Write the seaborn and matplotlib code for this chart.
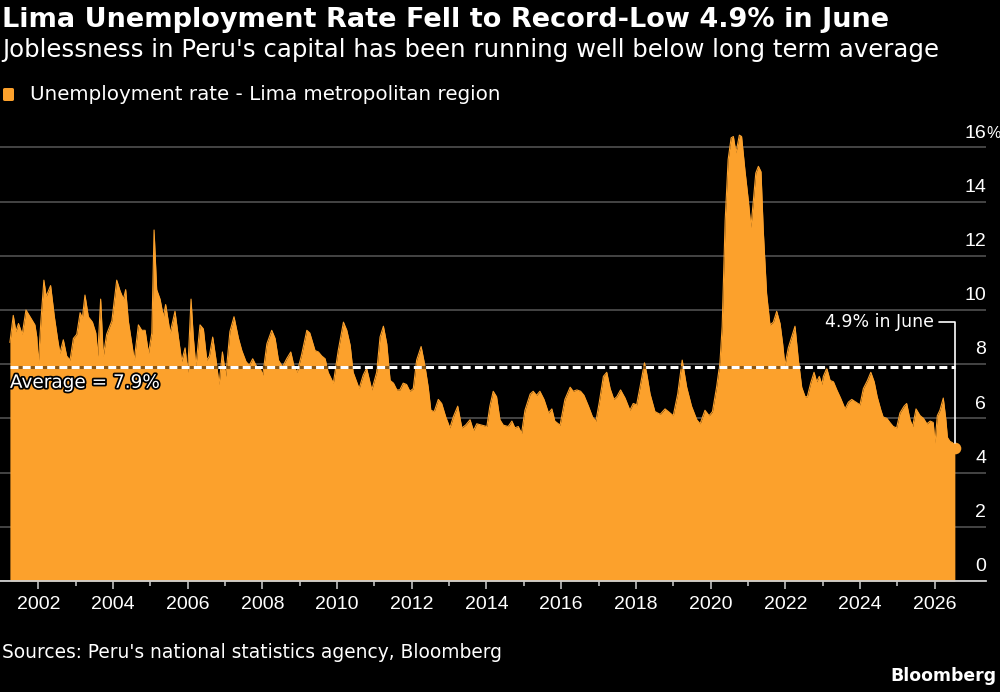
import matplotlib
matplotlib.use("Agg")
import matplotlib.pyplot as plt
import matplotlib.patheffects as pe
from matplotlib.patches import FancyBboxPatch
import pandas as pd
import seaborn as sns

ORANGE = "#FCA12C"
GRID = "#4a4a4a"
AXIS = "#d0d0d0"

# decimal year of each reading
YEARS = [
    2001.24, 2001.33, 2001.40, 2001.47, 2001.52, 2001.57, 2001.67, 2001.78, 2001.91, 2001.96,
    2002.00, 2002.07, 2002.15, 2002.21, 2002.33, 2002.43, 2002.52, 2002.58, 2002.67, 2002.76,
    2002.85, 2002.94, 2003.03, 2003.12, 2003.18, 2003.25, 2003.34, 2003.45, 2003.54, 2003.59,
    2003.67, 2003.74, 2003.83, 2003.97, 2004.10, 2004.19, 2004.28, 2004.34, 2004.41, 2004.57,
    2004.68, 2004.77, 2004.86, 2004.95, 2005.04, 2005.10, 2005.17, 2005.26, 2005.35, 2005.41,
    2005.53, 2005.66, 2005.75, 2005.84, 2005.93, 2006.00, 2006.09, 2006.15, 2006.22, 2006.33,
    2006.42, 2006.51, 2006.58, 2006.67, 2006.76, 2006.84, 2006.93, 2007.02, 2007.13, 2007.24,
    2007.36, 2007.45, 2007.56, 2007.65, 2007.74, 2007.85, 2007.94, 2008.01, 2008.12, 2008.25,
    2008.34, 2008.43, 2008.54, 2008.65, 2008.76, 2008.85, 2008.93, 2009.05, 2009.19, 2009.27,
    2009.41, 2009.50, 2009.59, 2009.68, 2009.76, 2009.90, 2010.03, 2010.17, 2010.26, 2010.35,
    2010.43, 2010.59, 2010.70, 2010.79, 2010.93, 2011.06, 2011.15, 2011.24, 2011.33, 2011.42,
    2011.51, 2011.60, 2011.68, 2011.77, 2011.86, 2011.95, 2012.04, 2012.13, 2012.25, 2012.35,
    2012.44, 2012.51, 2012.60, 2012.71, 2012.80, 2012.91, 2013.02, 2013.11, 2013.23, 2013.34,
    2013.44, 2013.56, 2013.65, 2013.74, 2013.87, 2014.01, 2014.09, 2014.18, 2014.27, 2014.36,
    2014.45, 2014.58, 2014.68, 2014.76, 2014.85, 2014.94, 2015.03, 2015.17, 2015.25, 2015.34,
    2015.43, 2015.54, 2015.66, 2015.75, 2015.83, 2015.97, 2016.10, 2016.24, 2016.32, 2016.42,
    2016.52, 2016.61, 2016.73, 2016.84, 2016.93, 2017.02, 2017.13, 2017.22, 2017.31, 2017.41,
    2017.49, 2017.59, 2017.71, 2017.84, 2017.93, 2018.02, 2018.11, 2018.23, 2018.29, 2018.38,
    2018.51, 2018.65, 2018.78, 2018.87, 2019.00, 2019.12, 2019.24, 2019.36, 2019.49, 2019.63,
    2019.72, 2019.85, 2019.96, 2020.05, 2020.16, 2020.25, 2020.31, 2020.39, 2020.47, 2020.55,
    2020.61, 2020.68, 2020.77, 2020.83, 2020.92, 2021.01, 2021.08, 2021.14, 2021.21, 2021.28,
    2021.35, 2021.41, 2021.50, 2021.59, 2021.68, 2021.77, 2021.86, 2021.93, 2021.99, 2022.08,
    2022.17, 2022.26, 2022.35, 2022.44, 2022.53, 2022.59, 2022.68, 2022.77, 2022.84, 2022.91,
    2022.98, 2023.02, 2023.11, 2023.20, 2023.29, 2023.38, 2023.48, 2023.60, 2023.69, 2023.78,
    2023.89, 2024.00, 2024.09, 2024.20, 2024.29, 2024.38, 2024.46, 2024.56, 2024.62, 2024.72,
    2024.80, 2024.89, 2024.98, 2025.07, 2025.18, 2025.25, 2025.34, 2025.41, 2025.50, 2025.61,
    2025.70, 2025.79, 2025.88, 2025.96, 2026.01, 2026.07, 2026.14, 2026.23, 2026.30, 2026.34,
    2026.41, 2026.48, 2026.54,
]

# unemployment rate, Lima metropolitan region (%)
RATES = [
    8.8, 9.8, 9.2, 9.5, 9.3, 9.1, 10.0, 9.75, 9.45, 9.0,
    8.0, 9.6, 11.1, 10.5, 10.9, 9.75, 8.9, 8.4, 8.9, 8.3,
    8.15, 8.95, 9.1, 9.9, 9.7, 10.55, 9.75, 9.55, 9.15, 8.3,
    10.4, 8.3, 9.1, 9.6, 11.1, 10.7, 10.4, 10.75, 9.6, 8.15,
    9.45, 9.25, 9.25, 8.4, 9.15, 12.95, 10.75, 10.4, 9.75, 10.2,
    9.15, 9.95, 9.0, 8.1, 8.6, 7.7, 10.4, 9.0, 7.9, 9.45,
    9.3, 8.15, 8.3, 9.0, 8.15, 7.25, 8.45, 7.55, 9.2, 9.75,
    8.95, 8.5, 8.1, 7.95, 8.2, 7.9, 7.85, 7.6, 8.75, 9.25,
    8.95, 8.15, 7.9, 8.2, 8.45, 7.9, 7.7, 8.35, 9.25, 9.15,
    8.5, 8.45, 8.3, 8.2, 7.7, 7.3, 8.5, 9.55, 9.25, 8.7,
    7.7, 7.1, 7.6, 7.85, 7.05, 7.7, 9.0, 9.4, 8.75, 7.4,
    7.3, 7.05, 7.05, 7.3, 7.25, 7.0, 7.1, 8.15, 8.65, 7.95,
    7.15, 6.3, 6.25, 6.7, 6.55, 6.05, 5.65, 6.05, 6.45, 5.65,
    5.75, 5.95, 5.55, 5.8, 5.75, 5.7, 6.45, 7.0, 6.8, 5.95,
    5.75, 5.7, 5.9, 5.65, 5.7, 5.45, 6.3, 6.9, 7.0, 6.85,
    7.0, 6.7, 6.2, 6.35, 5.9, 5.75, 6.7, 7.15, 7.0, 7.05,
    7.0, 6.85, 6.45, 6.05, 5.9, 6.6, 7.55, 7.7, 7.1, 6.7,
    6.8, 7.05, 6.75, 6.3, 6.55, 6.5, 7.15, 8.05, 7.65, 6.9,
    6.25, 6.15, 6.35, 6.25, 6.1, 6.9, 8.15, 7.15, 6.45, 5.95,
    5.8, 6.3, 6.1, 6.25, 7.15, 8.05, 9.4, 13.3, 15.55, 16.35,
    16.4, 15.8, 16.45, 16.4, 15.15, 14.05, 13.05, 13.95, 15.05, 15.3,
    15.1, 12.95, 10.6, 9.45, 9.55, 9.95, 9.5, 8.75, 7.95, 8.6,
    9.0, 9.4, 8.15, 7.15, 6.8, 6.8, 7.3, 7.7, 7.35, 7.55,
    7.25, 7.55, 7.85, 7.4, 7.35, 7.05, 6.75, 6.35, 6.6, 6.7,
    6.6, 6.5, 7.1, 7.4, 7.7, 7.35, 6.8, 6.3, 6.05, 6.0,
    5.85, 5.7, 5.65, 6.2, 6.45, 6.55, 5.95, 5.7, 6.35, 6.1,
    6.0, 5.8, 5.9, 5.85, 5.1, 6.1, 6.3, 6.75, 5.95, 5.3,
    5.15, 5.1, 4.9,
]

AVERAGE = 7.9
Y_TICKS = [0, 2, 4, 6, 8, 10, 12, 14, 16]
X_MAJOR = list(range(2002, 2027, 2))
X_MINOR = list(range(2003, 2027, 2))

TITLE = "Lima Unemployment Rate Fell to Record-Low 4.9% in June"
SUBTITLE = "Joblessness in Peru's capital has been running well below long term average"
LEGEND = "Unemployment rate - Lima metropolitan region"
SOURCE = "Sources: Peru's national statistics agency, Bloomberg"

sns.set_theme(style="dark")
plt.rcParams["font.family"] = ["DejaVu Sans"]
plt.rcParams["text.color"] = "white"
TICK_FONT = ["Liberation Sans", "DejaVu Sans"]

df = pd.DataFrame({"year": YEARS, "rate": RATES})

fig = plt.figure(figsize=(10, 6.92), dpi=100, facecolor="black")
ax = fig.add_axes([0.0, 1 - 581 / 692, 0.986, (581 - 130) / 692])
ax.set_facecolor("black")

ax.fill_between(df["year"], 0, df["rate"], color=ORANGE, lw=0, zorder=2)
sns.lineplot(data=df, x="year", y="rate", color=ORANGE, lw=0.8, ax=ax, zorder=3)

ax.set_xlim(2000.975, 2027.374)
ax.set_ylim(0, 16.64)
ax.set_xlabel("")
ax.set_ylabel("")

# grid + axis
ax.set_yticks(Y_TICKS)
ax.yaxis.grid(True, color=GRID, lw=1.3, zorder=0)
ax.xaxis.grid(False)
ax.set_axisbelow(True)
ax.tick_params(axis="y", length=0, labelleft=False, labelright=False)
for side in ["top", "left", "right"]:
    ax.spines[side].set_visible(False)
ax.spines["bottom"].set_color(AXIS)
ax.spines["bottom"].set_linewidth(1.3)
ax.spines["bottom"].set_zorder(5)

ax.set_xticks(X_MAJOR)
ax.set_xticklabels([str(y) for y in X_MAJOR], family=TICK_FONT)
ax.set_xticks(X_MINOR, minor=True)
ax.tick_params(axis="x", which="major", direction="out", length=6, width=1.1,
               color=AXIS, labelcolor="white", labelsize=14, pad=5, bottom=True)
ax.tick_params(axis="x", which="minor", direction="out", length=3.5, width=1.1,
               color=AXIS, bottom=True)

# right-side y labels sitting above their gridlines
for v in Y_TICKS:
    ax.annotate(str(v), xy=(1, v), xycoords=ax.get_yaxis_transform(),
                xytext=(0, 7), textcoords="offset points", family=TICK_FONT,
                ha="right", va="baseline", color="white", fontsize=14)
ax.annotate("%", xy=(1, Y_TICKS[-1]), xycoords=ax.get_yaxis_transform(),
            xytext=(0, 7), textcoords="offset points", family=TICK_FONT,
            ha="left", va="baseline", color="white", fontsize=11.5)

# long-term average
ax.hlines(AVERAGE, YEARS[0], YEARS[-1], colors="black", lw=2.2, alpha=0.45, zorder=4)
ax.hlines(AVERAGE, YEARS[0], YEARS[-1], colors="white", lw=2.2,
          linestyles=(0, (2.6, 1.4)), zorder=4)
ax.annotate(f"Average = {AVERAGE}%", xy=(YEARS[0], AVERAGE), xytext=(0, -5),
            textcoords="offset points", ha="left", va="top", color="white", fontsize=13.3,
            zorder=6, path_effects=[pe.withStroke(linewidth=2.5, foreground="black")])

# latest reading
ax.scatter([YEARS[-1]], [RATES[-1]], s=70, color=ORANGE, zorder=6, linewidths=0)
ax.annotate(f"{RATES[-1]}% in June", xy=(YEARS[-1], RATES[-1]), xytext=(-15, 91),
            textcoords="offset points", ha="right", va="center", color="white",
            fontsize=12.5, zorder=6,
            arrowprops=dict(arrowstyle="-", color="white", lw=1.2, relpos=(1, 0.5),
                            shrinkA=1, shrinkB=4,
                            connectionstyle="angle,angleA=0,angleB=90,rad=0"))

# header
fig.text(0.002, 1 - 27 / 692, TITLE, fontsize=19.5, fontweight="bold",
         ha="left", va="baseline", color="white")
fig.text(0.002, 1 - 57 / 692, SUBTITLE, fontsize=17.6,
         ha="left", va="baseline", color="white")
fig.add_artist(FancyBboxPatch((0.003, 1 - 101 / 692), 0.011, 13 / 692,
                              boxstyle="round,pad=0,rounding_size=0.002",
                              transform=fig.transFigure, color=ORANGE, lw=0))
fig.text(0.030, 1 - 100 / 692, LEGEND, fontsize=14.35,
         ha="left", va="baseline", color="white")

# footer
fig.text(0.002, 1 - 658 / 692, SOURCE, fontsize=13.4,
         ha="left", va="baseline", color="white")
fig.text(0.997, 1 - 681 / 692, "Bloomberg", fontsize=12.4, fontweight="bold",
         ha="right", va="baseline", color="white")

fig.savefig("out.png", dpi=100, facecolor="black")
